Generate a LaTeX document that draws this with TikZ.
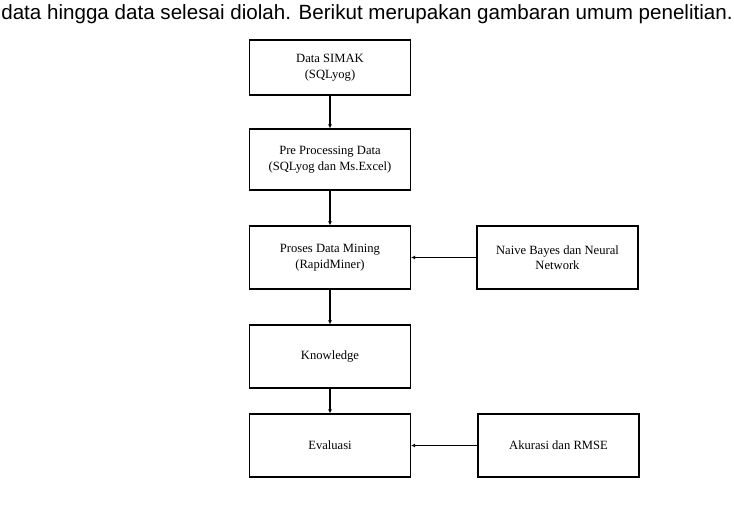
\documentclass[tikz,border=0pt]{standalone}
\usepackage{fontspec}
\setmainfont{Liberation Serif}
\newfontfamily\arialfont{Liberation Sans}
\usetikzlibrary{arrows.meta}
\begin{document}
\begin{tikzpicture}[x=1pt,y=-1pt,
  boxstyle/.style={draw,line width=1.2pt,minimum width=161pt,align=center,font=\fontsize{12.6}{15.5}\selectfont,inner sep=0pt},
  conn/.style={line width=1.2pt,-{Latex[length=4pt,width=4pt]}}]
\useasboundingbox (0,0) rectangle (734,505);
\node[anchor=base,font=\arialfont\fontsize{20.6}{22}\selectfont,inner sep=0pt] (hdr) at (367,20) {data hingga data selesai diolah. Berikut merupakan gambaran umum penelitian.};
\node[boxstyle,minimum height=55pt] (a) at (330,67.5) {Data SIMAK\\(SQLyog)};
\node[boxstyle,minimum height=61pt] (b) at (330,159.5) {Pre Processing Data\\(SQLyog dan Ms.Excel)};
\node[boxstyle,minimum height=63pt] (c) at (330,257.5) {Proses Data Mining\\(RapidMiner)};
\node[boxstyle,minimum height=63pt] (n) at (557.5,257.5) {Naive Bayes dan Neural\\Network};
\node[boxstyle,minimum height=63pt] (k) at (330,356.5) {Knowledge};
\node[boxstyle,minimum height=63pt] (e) at (330,445.5) {Evaluasi};
\node[boxstyle,minimum height=63pt] (r) at (558.5,445.5) {Akurasi dan RMSE};
\draw[conn] (a) -- (b);
\draw[conn] (b) -- (c);
\draw[conn] (c) -- (k);
\draw[conn] (k) -- (e);
\draw[conn] (n) -- (c);
\draw[conn] (r) -- (e);
\end{tikzpicture}
\end{document}
